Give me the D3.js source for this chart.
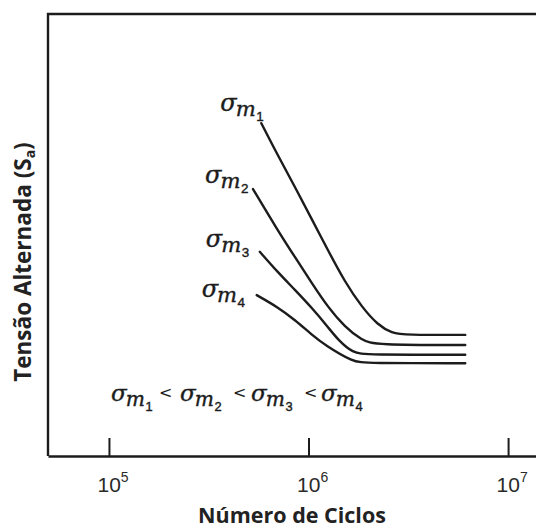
<!DOCTYPE html>
<html>
<head>
<meta charset="utf-8">
<script src="https://cdn.jsdelivr.net/npm/d3@7/dist/d3.min.js"></script>
<style>
  html, body { margin: 0; padding: 0; background: #fff; }
  svg { display: block; }
</style>
</head>
<body>
<svg id="chart" width="536" height="529"></svg>
<script>
// S-N curves for four mean stresses (arbitrary stress units, cycles on log axis)
const seriesNames = ["1", "2", "3", "4"];
const cyclesM1 = [5.8e5, 7.0e5, 8.55e5, 1.04e6, 1.25e6, 1.52e6, 1.85e6, 2.23e6, 2.62e6, 3.05e6, 6.1e6];
const stressM1 = [75.3, 68.1, 60.9, 53.5, 46.6, 39.4, 33.7, 29.6, 27.8, 27.4, 27.4];
const cyclesM2 = [5.27e5, 7.0e5, 8.55e5, 1.04e6, 1.25e6, 1.52e6, 1.85e6, 2.15e6, 6.1e6];
const stressM2 = [60.4, 51.1, 45.0, 39.1, 33.7, 29.2, 26.2, 25.1, 25.1];
const cyclesM3 = [5.7e5, 7.0e5, 8.55e5, 1.04e6, 1.25e6, 1.41e6, 1.67e6, 1.95e6, 6.1e6];
const stressM3 = [46.2, 41.6, 37.6, 33.5, 29.2, 26.2, 23.3, 22.9, 22.9];
const cyclesM4 = [5.5e5, 7.0e5, 8.55e5, 1.04e6, 1.21e6, 1.67e6, 1.95e6, 6.1e6];
const stressM4 = [36.4, 33.7, 30.8, 27.4, 25.1, 21.3, 21.0, 21.0];
const tickCycles = [1e5, 1e6, 1e7];
const tickExponents = ["5", "6", "7"];
const xTitle = "Número de Ciclos";
const yTitle = "Tensão Alternada (S";
const yTitleSub = "a";

const series = [
  { name: seriesNames[0], n: cyclesM1, s: stressM1 },
  { name: seriesNames[1], n: cyclesM2, s: stressM2 },
  { name: seriesNames[2], n: cyclesM3, s: stressM3 },
  { name: seriesNames[3], n: cyclesM4, s: stressM4 }
];

const svg = d3.select("#chart");
const ink = "#1c1c1c";

const x = d3.scaleLog().domain([4.95e4, 1.38e7]).range([48, 536]);
const y = d3.scaleLinear().domain([0, 100]).range([456, 14]);

// frame: left and top edges (bottom edge comes from the axis)
svg.append("path")
  .attr("d", `M${x.range()[1] + 2},${y(100)}H${x.range()[0]}V${y(0)}`)
  .attr("fill", "none").attr("stroke", ink).attr("stroke-width", 2.4);

// bottom axis with inward ticks
const xAxis = d3.axisBottom(x)
  .tickValues(tickCycles)
  .tickSizeInner(-18)
  .tickSizeOuter(0)
  .tickFormat(() => "");
const gx = svg.append("g").attr("transform", `translate(0,${y(0)})`).call(xAxis);
gx.select(".domain").attr("stroke", ink).attr("stroke-width", 2.4);
gx.selectAll(".tick line").attr("stroke", ink).attr("stroke-width", 2);
gx.selectAll(".tick text").remove();
gx.selectAll(".tick").each(function (d, i) {
  const t = d3.select(this).append("text")
    .attr("y", 36)
    .attr("fill", "#2a2a2a")
    .attr("font-family", "'Liberation Sans', Arial, sans-serif")
    .attr("font-size", 21)
    .attr("text-anchor", "start")
    .attr("x", -12);
  t.append("tspan").text("10");
  t.append("tspan").attr("font-size", 14).attr("dy", -10).text(tickExponents[i]);
});

// axis titles
svg.append("text")
  .attr("x", 292).attr("y", 523)
  .attr("text-anchor", "middle")
  .attr("fill", "#222")
  .attr("font-family", "'Open Sans', sans-serif")
  .attr("font-weight", 700)
  .attr("font-size", 21.5)
  .text(xTitle);

const yt = svg.append("text")
  .attr("transform", "translate(31,262) rotate(-90)")
  .attr("text-anchor", "middle")
  .attr("fill", "#222")
  .attr("font-family", "'Open Sans', sans-serif")
  .attr("font-weight", 700)
  .attr("font-size", 22.5);
yt.append("tspan").text(yTitle);
yt.append("tspan").attr("font-size", 14).attr("dy", 4).text(yTitleSub);
yt.append("tspan").attr("dy", -4).text(")");

// curves
const line = d3.line()
  .x(d => x(d[0]))
  .y(d => y(d[1]))
  .curve(d3.curveBasis);

svg.append("g").selectAll("path")
  .data(series)
  .join("path")
  .attr("d", d => line(d.n.map((v, i) => [v, d.s[i]])))
  .attr("fill", "none")
  .attr("stroke", ink)
  .attr("stroke-width", 2.4)
  .attr("stroke-linecap", "round");

// sigma_m label: σ, italic m lowered, index lowered again
function sigmaLabel(parent, xPos, yPos, idx, size) {
  const t = parent.append("text")
    .attr("x", xPos).attr("y", yPos)
    .attr("fill", ink)
    .attr("stroke", ink)
    .attr("stroke-width", 0.4)
    .attr("font-family", "'DejaVu Serif', serif")
    .attr("font-style", "italic");
  t.append("tspan").attr("font-size", size).text("σ");
  t.append("tspan").attr("font-size", size * 0.88).attr("dx", -1).attr("dy", size * 0.2).text("m");
  t.append("tspan").attr("font-size", size * 0.56).attr("font-style", "normal")
    .attr("font-family", "'Liberation Sans', sans-serif")
    .attr("dx", 0.5).attr("dy", size * 0.22).text(idx);
  return t;
}

// curve labels, anchored just left of each curve's first point
const labelOffsets = [[-41, -12], [-48, -6], [-54, -5], [-55, 2]];
const labels = svg.append("g");
series.forEach((d, i) => {
  sigmaLabel(labels, x(d.n[0]) + labelOffsets[i][0], y(d.s[0]) + labelOffsets[i][1], d.name, 24);
});

// ordering statement σm1 < σm2 < σm3 < σm4
const ordX = [111, 180, 251, 321];
const ltX = [159, 233, 304];
const ord = svg.append("g");
seriesNames.forEach((nm, i) => {
  sigmaLabel(ord, ordX[i], 401, nm, 23);
  if (i < ltX.length) {
    ord.append("text")
      .attr("x", ltX[i]).attr("y", 398)
      .attr("fill", ink)
      .attr("font-family", "'DejaVu Sans', sans-serif")
      .attr("font-size", 16)
      .text("<");
  }
});
</script>
</body>
</html>
